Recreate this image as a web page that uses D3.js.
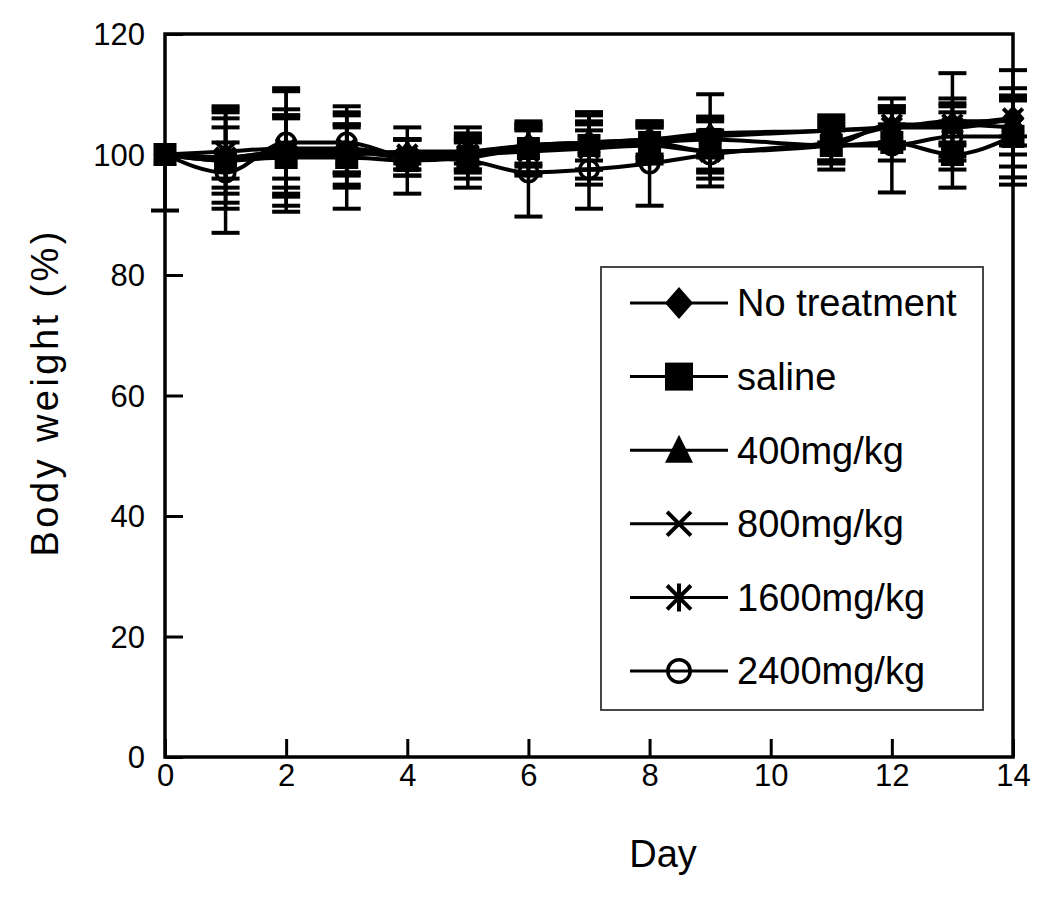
<!DOCTYPE html>
<html>
<head>
<meta charset="utf-8">
<script src="https://cdn.jsdelivr.net/npm/d3@7"></script>
<style>
  html, body { margin: 0; padding: 0; background: #fff; }
  svg { display: block; }
  text { font-family: "Liberation Sans", Arial, sans-serif; fill: #000; }
</style>
</head>
<body>
<svg id="chart" width="1050" height="898"></svg>
<script>
// ---- data ----
const days = [0, 1, 2, 3, 4, 5, 6, 7, 8, 9, 11, 12, 13, 14];
const seriesNames = ["No treatment", "saline", "400mg/kg", "800mg/kg", "1600mg/kg", "2400mg/kg"];
const seriesSymbols = ["diamond", "square", "triangle", "x", "star", "circle"];

const noTreatment   = [100, 99.5, 100.5, 100.5, 100, 100.5, 101.5, 102, 102.5, 103, 104, 104.5, 105, 106];
const noTreatmentSD = [0, 5, 6, 4, 2.5, 3, 3.5, 3, 3, 3, 2.5, 3, 3.5, 8];
const saline        = [100, 99, 99.5, 99.5, 99, 99.5, 101, 101.5, 102, 102.5, 101.5, 102, 100, 103];
const salineSD      = [9.3, 7, 8, 8.5, 5.5, 5, 4.5, 4, 3, 3, 4, 3, 5.5, 8];
const salineSDUp    = [0, 7, 8, 8.5, 5.5, 5, 4.5, 4, 3, 3, 4, 3, 5.5, 8];
const dose400       = [100, 99, 100, 100, 100.5, 100.5, 101.5, 102, 102.5, 103.5, 104, 104.5, 105.5, 105.5];
const dose400SD     = [0, 3, 6.5, 5, 2, 2, 3, 4.5, 2.5, 6.5, 2, 2.5, 8, 4];
const dose800       = [100, 100.5, 101, 101, 100, 100, 101, 101.5, 102, 100.5, 101.5, 105, 105, 104.5];
const dose800SD     = [0, 7, 5, 4, 2.5, 2.5, 4, 5.5, 2.5, 5.8, 2.5, 3, 3, 4.5];
const dose1600      = [100, 99.5, 100.5, 100.5, 99.5, 100, 100.5, 101, 101.5, 100.5, 102, 104.5, 104.5, 106];
const dose1600SD    = [0, 8.5, 10, 6, 3, 3, 3.5, 6, 3, 3, 3, 3.5, 4.8, 3];
const dose2400      = [100, 97, 102, 102, 99.5, 99, 97, 97.5, 98.5, 100, 101.5, 101.5, 103, 103];
const dose2400SD    = [0, 10, 9, 5, 3, 3, 7.3, 6.5, 7, 4, 3, 7.8, 4, 6.8];

const xTicks = [0, 2, 4, 6, 8, 10, 12, 14];
const yTicks = [0, 20, 40, 60, 80, 100, 120];

const allMeans = [noTreatment, saline, dose400, dose800, dose1600, dose2400];
const allSDLow = [noTreatmentSD, salineSD, dose400SD, dose800SD, dose1600SD, dose2400SD];
const allSDUp  = [noTreatmentSD, salineSDUp, dose400SD, dose800SD, dose1600SD, dose2400SD];

// ---- layout ----
const svg = d3.select("#chart");
const pLeft = 165, pRight = 1013, pTop = 34, pBottom = 757;
const x = d3.scaleLinear().domain([0, 14]).range([pLeft, pRight]);
const y = d3.scaleLinear().domain([0, 120]).range([pBottom, pTop]);

// axes (ticks inward)
const xAxis = svg.append("g").attr("transform", `translate(0,${pBottom})`)
  .call(d3.axisBottom(x).tickValues(xTicks).tickSize(-18).tickPadding(7).tickFormat(d3.format("d")));
xAxis.select(".domain").remove();
xAxis.selectAll("line").attr("stroke", "#000").attr("stroke-width", 3);
xAxis.selectAll("text").style("font-size", "31px").attr("dy", "0.71em");

const yAxis = svg.append("g").attr("transform", `translate(${pLeft},0)`)
  .call(d3.axisLeft(y).tickValues(yTicks).tickSize(-18).tickPadding(20).tickFormat(d3.format("d")));
yAxis.select(".domain").remove();
yAxis.selectAll("line").attr("stroke", "#000").attr("stroke-width", 3);
yAxis.selectAll("text").style("font-size", "31px").attr("dy", "0.35em");

// frame
svg.append("rect").attr("x", pLeft).attr("y", pTop).attr("width", pRight - pLeft).attr("height", pBottom - pTop)
  .attr("fill", "none").attr("stroke", "#000").attr("stroke-width", 3.5);

// axis titles
svg.append("text").attr("x", 663).attr("y", 867).attr("text-anchor", "middle")
  .style("font-size", "38px").text("Day");
svg.append("text").attr("transform", `translate(58,394) rotate(-90)`)
  .attr("text-anchor", "middle").style("font-size", "38px")
  .attr("textLength", 325).attr("lengthAdjust", "spacing").text("Body weight (%)");

// ---- symbols ----
function drawSymbol(g, type, cx, cy, s) {
  const h = s / 2;
  if (type === "diamond") {
    g.append("path").attr("d", `M${cx},${cy - h * 1.15}L${cx + h},${cy}L${cx},${cy + h * 1.15}L${cx - h},${cy}Z`).attr("fill", "#000");
  } else if (type === "square") {
    g.append("rect").attr("x", cx - h).attr("y", cy - h).attr("width", s).attr("height", s).attr("fill", "#000");
  } else if (type === "triangle") {
    g.append("path").attr("d", `M${cx},${cy - h * 1.1}L${cx + h},${cy + h * 0.9}L${cx - h},${cy + h * 0.9}Z`).attr("fill", "#000");
  } else if (type === "x") {
    const k = h * 0.85;
    g.append("path").attr("d", `M${cx - k},${cy - k}L${cx + k},${cy + k}M${cx + k},${cy - k}L${cx - k},${cy + k}`)
      .attr("stroke", "#000").attr("stroke-width", 4).attr("fill", "none");
  } else if (type === "star") {
    const k = h * 0.85;
    g.append("path").attr("d", `M${cx - k},${cy - k}L${cx + k},${cy + k}M${cx + k},${cy - k}L${cx - k},${cy + k}M${cx},${cy - h}L${cx},${cy + h}`)
      .attr("stroke", "#000").attr("stroke-width", 4).attr("fill", "none");
  } else if (type === "circle") {
    g.append("circle").attr("cx", cx).attr("cy", cy).attr("r", h * 0.8).attr("fill", "none")
      .attr("stroke", "#000").attr("stroke-width", 3.5);
  }
}

// ---- series ----
const line = d3.line().x((d, i) => x(days[i])).y(d => y(d)).curve(d3.curveMonotoneX);
const plot = svg.append("g");

allMeans.forEach((vals) => {
  plot.append("path").attr("d", line(vals)).attr("fill", "none").attr("stroke", "#000").attr("stroke-width", 4);
});

const capW = 28;
allMeans.forEach((vals, si) => {
  const lo = allSDLow[si], up = allSDUp[si];
  const g = plot.append("g");
  vals.forEach((v, i) => {
    const cx = x(days[i]);
    if (lo[i] > 0) {
      const yy = y(v - lo[i]);
      g.append("line").attr("x1", cx).attr("x2", cx).attr("y1", y(v)).attr("y2", yy).attr("stroke", "#000").attr("stroke-width", 3.5);
      g.append("line").attr("x1", cx - capW / 2).attr("x2", cx + capW / 2).attr("y1", yy).attr("y2", yy).attr("stroke", "#000").attr("stroke-width", 4);
    }
    if (up[i] > 0) {
      const yy = y(v + up[i]);
      g.append("line").attr("x1", cx).attr("x2", cx).attr("y1", y(v)).attr("y2", yy).attr("stroke", "#000").attr("stroke-width", 3.5);
      g.append("line").attr("x1", cx - capW / 2).attr("x2", cx + capW / 2).attr("y1", yy).attr("y2", yy).attr("stroke", "#000").attr("stroke-width", 4);
    }
  });
});

allMeans.forEach((vals, si) => {
  const g = plot.append("g");
  vals.forEach((v, i) => drawSymbol(g, seriesSymbols[si], x(days[i]), y(v), 23));
});

// ---- legend ----
const lg = svg.append("g");
lg.append("rect").attr("x", 601).attr("y", 267).attr("width", 382).attr("height", 443)
  .attr("fill", "#fff").attr("stroke", "#333").attr("stroke-width", 1.8);
seriesNames.forEach((name, i) => {
  const cy = 303 + i * 73.6;
  lg.append("line").attr("x1", 630).attr("x2", 728).attr("y1", cy).attr("y2", cy).attr("stroke", "#000").attr("stroke-width", 3);
  drawSymbol(lg, seriesSymbols[i], 679, cy, 28);
  lg.append("text").attr("x", 737).attr("y", cy).attr("dy", "0.35em").style("font-size", "38px").text(name);
});
</script>
</body>
</html>
